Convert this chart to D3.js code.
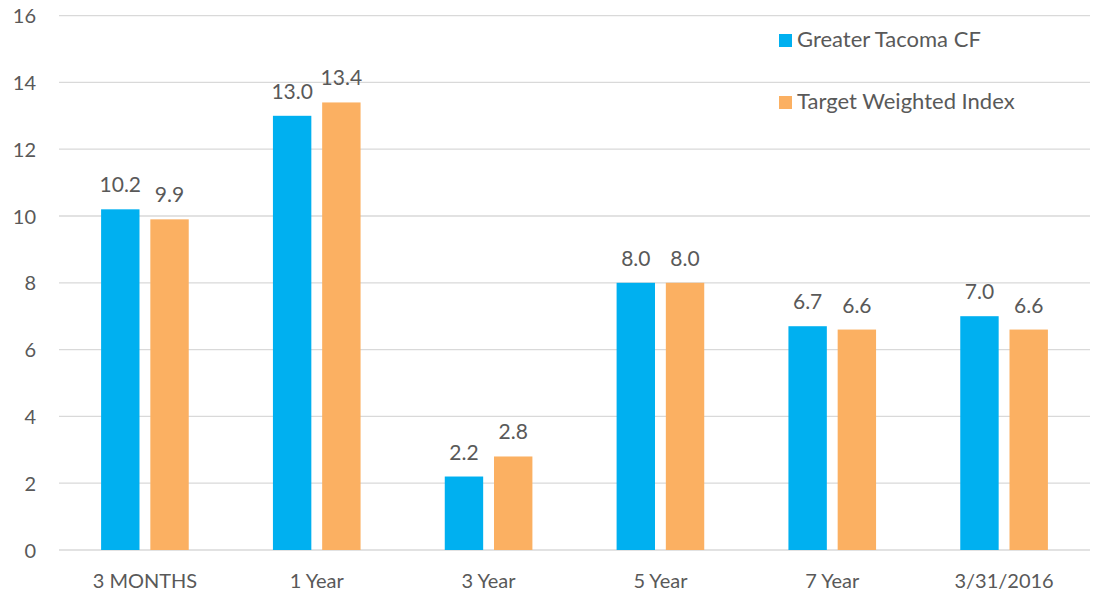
<!DOCTYPE html>
<html><head><meta charset="utf-8">
<script src="https://cdn.jsdelivr.net/npm/d3@7"></script>
<style>
html,body{margin:0;padding:0;background:#fff;}
text{font-family:Lato,"Open Sans",sans-serif;fill:#595959;}
</style></head>
<body><svg id="c" width="1096" height="594"></svg>
<script>
const categories = ["3 MONTHS","1 Year","3 Year","5 Year","7 Year","3/31/2016"];
const seriesNames = ["Greater Tacoma CF","Target Weighted Index"];
const tacoma = [10.2,13.0,2.2,8.0,6.7,7.0];
const target = [9.9,13.4,2.8,8.0,6.6,6.6];
const yTicks = [0,2,4,6,8,10,12,14,16];
const colors = ["#00B0F0","#FBB062"];

const svg = d3.select("#c");
const m = {l:59, r:6, t:15.6, b:44};
const W = 1096, H = 594;
const x = d3.scaleBand().domain(categories).range([m.l, W-m.r]).paddingInner(0.49).paddingOuter(0.245);
const x1 = d3.scaleBand().domain(seriesNames).range([0, x.bandwidth()]).paddingInner(0.22);
const y = d3.scaleLinear().domain([0,16]).range([550, m.t]);

svg.append("g").selectAll("line").data(yTicks).join("line")
  .attr("x1", m.l).attr("x2", W-m.r)
  .attr("y1", d=>y(d)).attr("y2", d=>y(d))
  .attr("stroke", "#d9d9d9").attr("stroke-width", 1.3);

const ya = svg.append("g").attr("transform", `translate(${m.l-23},0)`)
  .call(d3.axisLeft(y).tickValues(yTicks).tickSize(0).tickPadding(0));
ya.select(".domain").remove();
ya.selectAll("text").style("font-size","20px").style("font-family","Lato").attr("fill","#595959").attr("dy","0.35em");

const xa = svg.append("g").attr("transform", `translate(0,550)`)
  .call(d3.axisBottom(x).tickSize(0).tickPadding(0));
xa.select(".domain").remove();
xa.selectAll("text").style("font-size","20px").style("font-family","Lato").attr("fill","#595959").attr("dy","38px");

const data = categories.map((c,i)=>({cat:c, vals:[{s:seriesNames[0],v:tacoma[i],c:colors[0]},{s:seriesNames[1],v:target[i],c:colors[1]}]}));
const g = svg.append("g").selectAll("g").data(data).join("g").attr("transform", d=>`translate(${x(d.cat)},0)`);
g.selectAll("rect").data(d=>d.vals).join("rect")
  .attr("x", d=>x1(d.s)).attr("width", x1.bandwidth())
  .attr("y", d=>y(d.v)).attr("height", d=>y(0)-y(d.v)).attr("fill", d=>d.c);
g.selectAll("text.v").data(d=>d.vals).join("text").attr("class","v")
  .attr("x", d=>x1(d.s)+x1.bandwidth()/2).attr("y", d=>y(d.v)-17)
  .attr("text-anchor","middle").style("font-size","21px").text(d=>d.v.toFixed(1));

const lg = svg.append("g");
seriesNames.forEach((s,i)=>{
  const yy = 34 + i*62;
  lg.append("rect").attr("x",779).attr("y",yy).attr("width",13).attr("height",13).attr("fill",colors[i]);
  lg.append("text").attr("x",797).attr("y",yy+13).style("font-size","22px").text(s);
});
</script></body></html>
